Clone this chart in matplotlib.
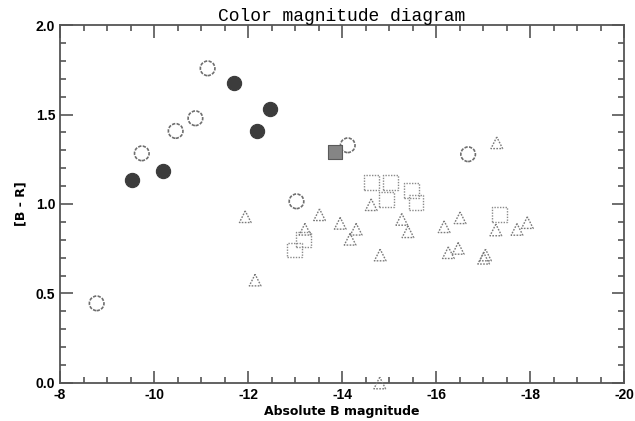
import matplotlib
matplotlib.use('Agg')
import matplotlib.pyplot as plt
from matplotlib.ticker import MultipleLocator

# open circles
oc_mag = [-8.78, -9.74, -10.46, -10.88, -11.14, -13.03, -14.12, -16.68]
oc_col = [0.445, 1.283, 1.408, 1.479, 1.758, 1.015, 1.328, 1.278]

# filled circles
fc_mag = [-9.54, -10.20, -11.71, -12.18, -12.47]
fc_col = [1.134, 1.184, 1.678, 1.408, 1.529]

# filled square
fs_mag = [-13.85]
fs_col = [1.289]

# open squares
os_mag = [-14.62, -15.03, -14.95, -15.47, -15.57, -17.35, -13.18, -12.99]
os_col = [1.119, 1.119, 1.026, 1.074, 1.009, 0.942, 0.803, 0.743]

# open triangles
ot_mag = [-11.94, -12.15, -13.21, -13.52, -13.96, -14.30, -14.17, -14.62, -14.81,
          -15.27, -15.40, -16.17, -16.51, -16.26, -16.47, -17.27, -17.72, -17.94,
          -17.01, -17.05, -17.29, -14.80]
ot_col = [0.929, 0.575, 0.859, 0.940, 0.892, 0.859, 0.803, 0.996, 0.715,
          0.914, 0.845, 0.873, 0.923, 0.728, 0.752, 0.855, 0.858, 0.896,
          0.697, 0.715, 1.342, 0.0]

xticks = [-8, -10, -12, -14, -16, -18, -20]
xlabels = ['-8', '-10', '-12', '-14', '-16', '-18', '-20']
yticks = [0.0, 0.5, 1.0, 1.5, 2.0]
ylabels = ['0.0', '0.5', '1.0', '1.5', '2.0']

fig = plt.figure(figsize=(6.35, 4.21), dpi=100)
ax = fig.add_axes([0.0945, 0.0903, 0.8885, 0.8503])

edge = '#6e6e6e'
ax.scatter(oc_mag, oc_col, s=110, facecolors='none', edgecolors=edge,
           linewidths=1.2, linestyles=(0, (2, 0.8)), zorder=3)
ax.scatter(fc_mag, fc_col, s=105, facecolors='#3c3c3c', edgecolors='#3c3c3c',
           linewidths=0.8, zorder=3)
ax.scatter(fs_mag, fs_col, s=100, marker='s', facecolors='#858585',
           edgecolors='#5a5a5a', linewidths=0.8, zorder=3)
ax.scatter(os_mag, os_col, s=110, marker='s', facecolors='none', edgecolors='#8a8a8a',
           linewidths=1.0, linestyles=(0, (1, 1)), zorder=3)
ax.scatter(ot_mag, ot_col, s=70, marker='^', facecolors='none', edgecolors='#7a7a7a',
           linewidths=1.0, linestyles=(0, (1.2, 1)), zorder=3, clip_on=False)

ax.set_xlim(-8, -20)
ax.set_ylim(0, 2.0)
ax.xaxis.set_minor_locator(MultipleLocator(0.5))
ax.yaxis.set_minor_locator(MultipleLocator(0.1))
ax.tick_params(which='both', direction='in', top=True, right=True,
               color='#555555', width=1.2)
ax.tick_params(which='major', length=9, labelsize=10)
ax.tick_params(which='minor', length=4.5)
ax.set_xticks(xticks)
ax.set_xticklabels(xlabels, fontweight='bold', family='Liberation Sans')
ax.set_yticks(yticks)
ax.set_yticklabels(ylabels, fontweight='bold', family='Liberation Sans')
for sp in ax.spines.values():
    sp.set_color('#555555')
    sp.set_linewidth(1.3)

ax.set_title('Color magnitude diagram', family='Liberation Mono',
             fontsize=13, pad=3)
ax.set_xlabel('Absolute B magnitude', fontweight='bold', fontsize=9, labelpad=2)
ax.set_ylabel('[B - R]', fontweight='bold', fontsize=9, labelpad=6)

fig.savefig('out.png', dpi=100)
